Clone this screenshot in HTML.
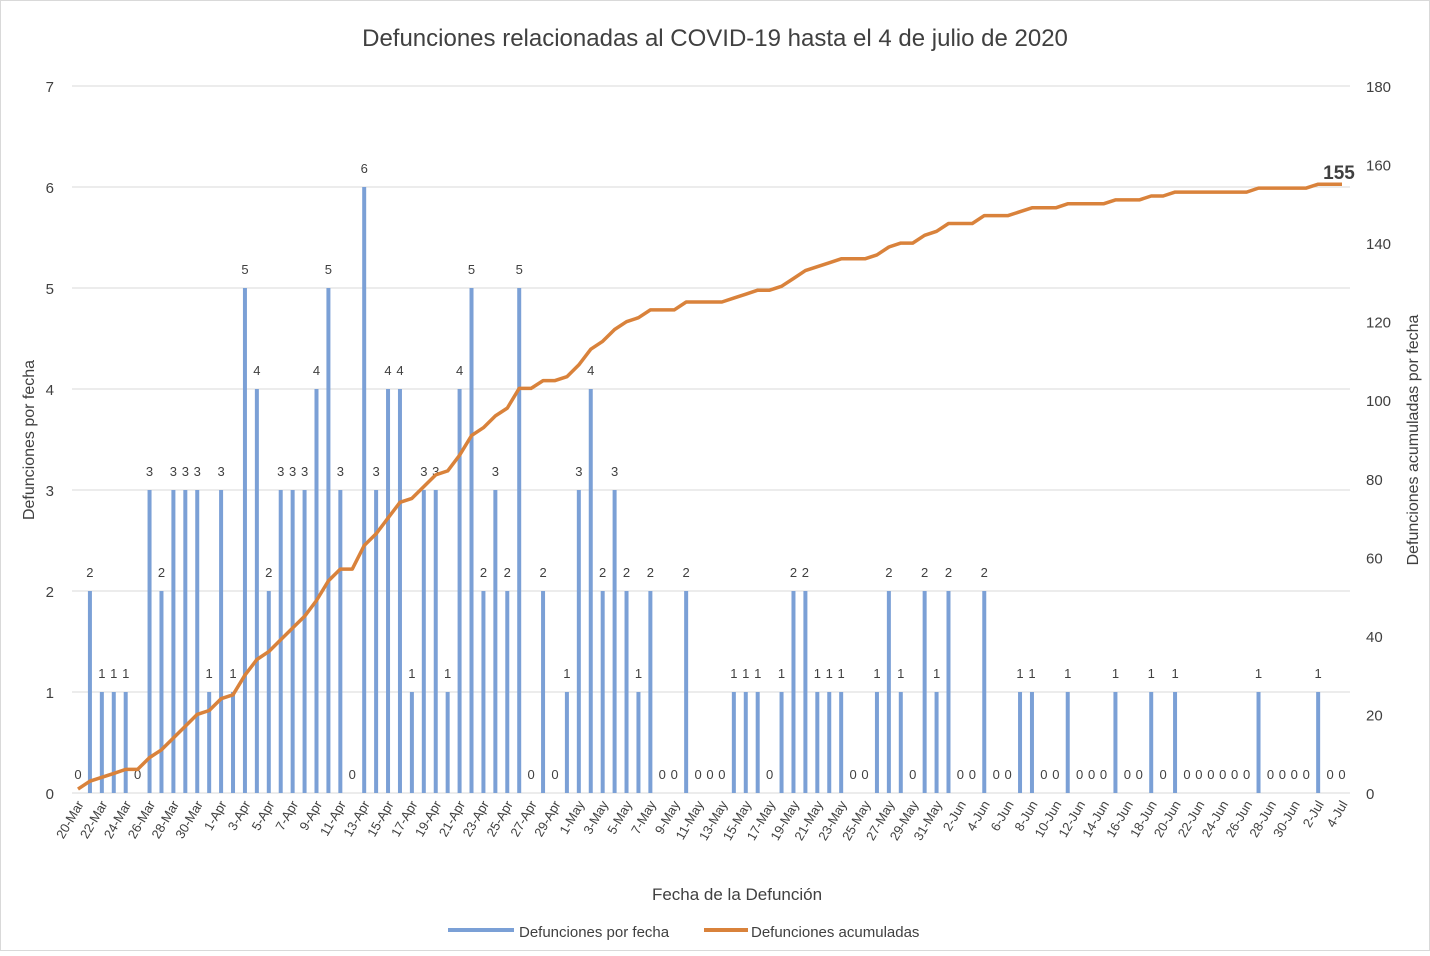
<!DOCTYPE html>
<html><head><meta charset="utf-8"><style>
body{margin:0;background:#fff;}
svg text{font-family:"Liberation Sans",sans-serif;fill:#404040;}
</style></head><body>
<svg id="s" width="1430" height="951" xmlns="http://www.w3.org/2000/svg">
<rect x="0.5" y="0.5" width="1429" height="950" fill="#fff" stroke="#d9d9d9"/>
<text x="715" y="46" font-size="24" text-anchor="middle" fill="#404040">Defunciones relacionadas al COVID-19 hasta el 4 de julio de 2020</text>
<text transform="translate(34,440) rotate(-90)" font-size="16" text-anchor="middle">Defunciones por fecha</text>
<text transform="translate(1418,440) rotate(-90)" font-size="16" text-anchor="middle">Defunciones acumuladas por fecha</text>
<text x="737" y="900" font-size="17" text-anchor="middle">Fecha de la Defunción</text>
<rect x="448" y="928" width="66" height="4" fill="#7ba0d6"/>
<text x="519" y="937" font-size="15">Defunciones por fecha</text>
<rect x="704" y="928" width="44" height="4" fill="#d9823b"/>
<text x="751" y="937" font-size="15">Defunciones acumuladas</text>
<g id="g"></g>
</svg>
<script>
var v=[0,2,1,1,1,0,3,2,3,3,3,1,
3,1,5,4,2,3,3,3,4,5,3,0,6,3,4,4,1,3,3,1,4,5,2,3,2,5,0,2,0,1,
3,4,2,3,2,1,2,0,0,2,0,0,0,1,1,1,0,1,2,2,1,1,1,0,0,1,2,1,0,2,1,
2,0,0,2,0,0,1,1,0,0,1,0,0,0,1,0,0,1,0,1,0,0,0,0,0,0,1,0,0,0,0,
1,0,0];
var mo=[["Mar",20,31],["Apr",1,30],["May",1,31],["Jun",1,30],["Jul",1,4]];
var lab=[];mo.forEach(function(m){for(var d=m[1];d<=m[2];d++)lab.push(d+"-"+m[0]);});
var x0=78,dx=(1342-78)/106,y0=793,uy=101,ry=(793-86)/180;
var h="";
for(var i=0;i<=7;i++){var y=y0-i*uy;h+='<line x1="72" x2="1350" y1="'+y+'" y2="'+y+'" stroke="#d9d9d9"/>';
h+='<text x="54" y="'+(y+6)+'" font-size="15" text-anchor="end">'+i+'</text>';}
for(var i=0;i<=9;i++){var y=y0-i*20*ry;h+='<text x="1366" y="'+(y+6)+'" font-size="15">'+(i*20)+'</text>';}
var c=1,pts=[];
for(var i=0;i<v.length;i++){var x=x0+i*dx;
if(v[i]>0)h+='<rect x="'+(x-2)+'" y="'+(y0-v[i]*uy)+'" width="4" height="'+(v[i]*uy)+'" fill="#7ba0d6"/>';
h+='<text x="'+x+'" y="'+(y0-v[i]*uy-14)+'" font-size="13" text-anchor="middle">'+v[i]+'</text>';
c+=(i>0?v[i]:0);pts.push(x.toFixed(1)+","+(y0-c*ry).toFixed(1));
if(i%2==0||i==v.length-1)h+='<text transform="translate('+(x+6)+',804) rotate(-60)" font-size="13" text-anchor="end">'+lab[i]+'</text>';}
h+='<polyline points="'+pts.join(" ")+'" fill="none" stroke="#d9823b" stroke-width="3.5" stroke-linejoin="round"/>';
h+='<text x="1339" y="179" font-size="19" font-weight="bold" text-anchor="middle">155</text>';
document.getElementById("g").innerHTML=h;
</script>
</body></html>
